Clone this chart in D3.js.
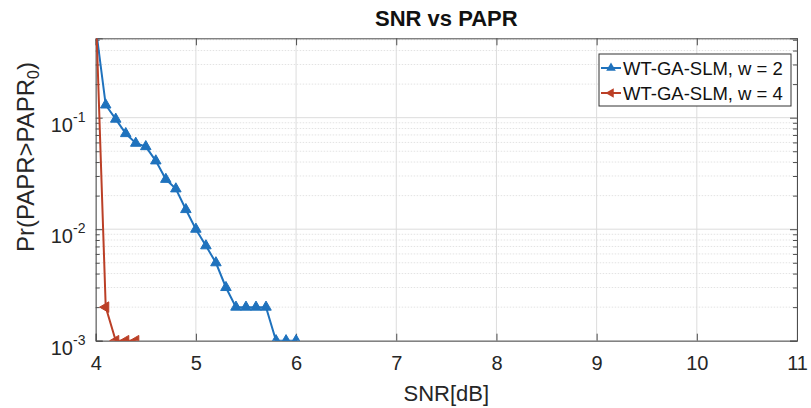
<!DOCTYPE html>
<html><head><meta charset="utf-8">
<script src="https://cdn.jsdelivr.net/npm/d3@7"></script>
<style>body{margin:0;background:#fff}svg{display:block;font-family:"Liberation Sans",Arial,sans-serif}</style>
</head><body><svg id="c" width="811" height="408"></svg>
<script>
const snrW2 = [4.0,4.1,4.2,4.3,4.4,4.5,4.6,4.7,4.8,4.9,5.0,5.1,5.2,5.3,5.4,5.5,5.6,5.7,5.8,5.9,6.0];
const prW2  = [0.65,0.13,0.097,0.072,0.059,0.055,0.041,0.028,0.023,0.015,0.010,0.0071,0.0050,0.0030,0.002,0.002,0.002,0.002,0.001,0.001,0.001];
const snrW4 = [4.0,4.1,4.2,4.3,4.4];
const prW4  = [1.0,0.002,0.001,0.001,0.001];
const seriesNames = ["WT-GA-SLM, w = 2","WT-GA-SLM, w = 4"];
const xTicks = [4,5,6,7,8,9,10,11];
const yTickExps = [-3,-2,-1];
const titleText = "SNR vs PAPR";
const xLabel = "SNR[dB]";

const svg = d3.select("#c");
const L=95.7, R=797, T=38.3, B=340.7;
const x = d3.scaleLinear().domain([4,11]).range([L,R]);
const y = d3.scaleLog().domain([1e-3,0.515]).range([B,T]);
const colors = ["#1f72bd","#bb3f26"];

// minor y grid
const minorY=[];
for (let e=-3;e<=-1;e++) for (let m=2;m<=9;m++){const v=m*Math.pow(10,e); if(v<=0.515) minorY.push(v);}
svg.append("g").selectAll("line").data(minorY).join("line")
  .attr("x1",L).attr("x2",R).attr("y1",d=>y(d)).attr("y2",d=>y(d))
  .attr("stroke","#e3e3e3").attr("stroke-width",1).attr("stroke-dasharray","1.5,1.5");
// major grid
svg.append("g").selectAll("line").data(yTickExps.map(e=>Math.pow(10,e))).join("line")
  .attr("x1",L).attr("x2",R).attr("y1",d=>y(d)).attr("y2",d=>y(d))
  .attr("stroke","#dcdcdc").attr("stroke-width",1);
svg.append("g").selectAll("line").data(xTicks).join("line")
  .attr("x1",d=>x(d)).attr("x2",d=>x(d)).attr("y1",T).attr("y2",B)
  .attr("stroke","#dcdcdc").attr("stroke-width",1);

// axes with inward ticks
const ax = "#4d4d4d";
const xb = svg.append("g").attr("transform",`translate(0,${B})`)
  .call(d3.axisBottom(x).tickValues(xTicks).tickSize(-7).tickPadding(15).tickFormat(d3.format("d")));
const xt = svg.append("g").attr("transform",`translate(0,${T})`)
  .call(d3.axisTop(x).tickValues(xTicks).tickSize(-7).tickFormat(""));
const yl = svg.append("g").attr("transform",`translate(${L},0)`)
  .call(d3.axisLeft(y).tickValues(yTickExps.map(e=>Math.pow(10,e))).tickSize(-7).tickFormat(""));
const yr = svg.append("g").attr("transform",`translate(${R},0)`)
  .call(d3.axisRight(y).tickValues(yTickExps.map(e=>Math.pow(10,e))).tickSize(-7).tickFormat(""));
const ylm = svg.append("g").attr("transform",`translate(${L},0)`)
  .call(d3.axisLeft(y).tickValues(minorY).tickSize(-4).tickFormat(""));
const yrm = svg.append("g").attr("transform",`translate(${R},0)`)
  .call(d3.axisRight(y).tickValues(minorY).tickSize(-4).tickFormat(""));
[xb,xt,yl,yr,ylm,yrm].forEach(g=>{
  g.selectAll("path").attr("stroke",ax).attr("stroke-width",1);
  g.selectAll("line").attr("stroke",ax);
});
ylm.select("path").remove(); yrm.select("path").remove();
xb.selectAll("text").attr("font-size",20).attr("fill","#262626").attr("font-family","Liberation Sans, Arial, sans-serif");

// y tick labels 10^e
const ytl = svg.append("g");
yTickExps.forEach(e=>{
  const t = ytl.append("text").attr("x",73).attr("y",y(Math.pow(10,e))+14)
    .attr("font-size",20).attr("fill","#262626").attr("text-anchor","end").text("10");
  ytl.append("text").attr("x",73).attr("y",y(Math.pow(10,e))+4)
    .attr("font-size",14).attr("fill","#262626").text(String(e));
});

// clip
svg.append("clipPath").attr("id","clp").append("rect").attr("x",L).attr("y",T).attr("width",R-L).attr("height",B-T);
const plot = svg.append("g").attr("clip-path","url(#clp)");

const series = [
  {xs:snrW2, ys:prW2, c:colors[0], sym:d3.symbolTriangle, rot:0},
  {xs:snrW4, ys:prW4, c:colors[1], sym:d3.symbolTriangle, rot:-90}
];
const line = d3.line().x(d=>x(d[0])).y(d=>y(d[1]));
series.forEach(s=>{
  const pts = s.xs.map((v,i)=>[v,s.ys[i]]);
  plot.append("path").datum(pts).attr("d",line).attr("fill","none").attr("stroke",s.c).attr("stroke-width",2);
  plot.append("g").selectAll("path").data(pts).join("path")
    .attr("d",d3.symbol().type(s.sym).size(48))
    .attr("transform",d=>`translate(${x(d[0])},${y(d[1])}) rotate(${s.rot})`)
    .attr("fill",s.c).attr("stroke",s.c).attr("stroke-width",1);
});

// title & labels
svg.append("text").attr("x",(L+R)/2).attr("y",26).attr("text-anchor","middle")
  .attr("font-size",22).attr("font-weight","bold").attr("fill","#111").text(titleText);
svg.append("text").attr("x",(L+R)/2).attr("y",401).attr("text-anchor","middle")
  .attr("font-size",22).attr("fill","#262626").text(xLabel);
const ylab = svg.append("text").attr("transform","translate(34,157) rotate(-90)")
  .attr("text-anchor","middle").attr("font-size",24).attr("fill","#262626");
ylab.append("tspan").text("Pr(PAPR>PAPR");
ylab.append("tspan").attr("font-size",16).attr("dy",5).text("0");
ylab.append("tspan").attr("dy",-5).text(")");

// legend
const lg = svg.append("g");
lg.append("rect").attr("x",599).attr("y",54).attr("width",192).attr("height",52)
  .attr("fill","#fff").attr("stroke","#333").attr("stroke-width",1);
series.forEach((s,i)=>{
  const cy = 68+i*25;
  lg.append("line").attr("x1",601).attr("x2",621).attr("y1",cy).attr("y2",cy).attr("stroke",s.c).attr("stroke-width",2);
  lg.append("path").attr("d",d3.symbol().type(s.sym).size(40)()).attr("transform",`translate(611,${cy}) rotate(${s.rot})`).attr("fill",s.c);
  lg.append("text").attr("x",623).attr("y",cy+7).attr("font-size",18.5).attr("fill","#111").text(seriesNames[i]);
});
</script></body></html>
